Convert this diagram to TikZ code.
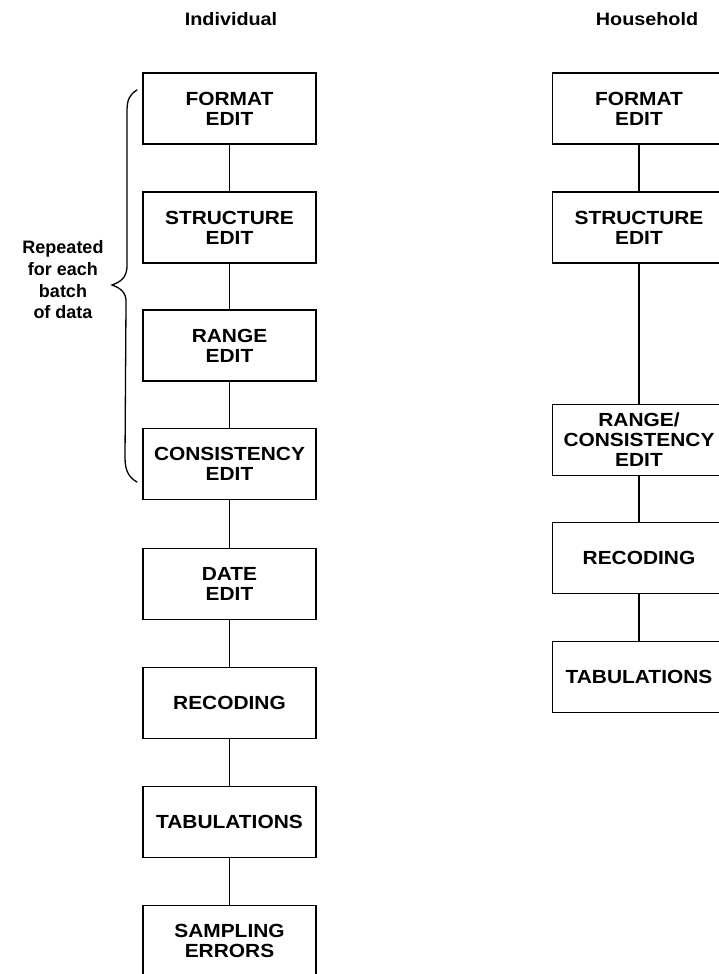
\documentclass[tikz,border=0pt]{standalone}
\usepackage{fontspec}
\setmainfont{Liberation Sans}
\newfontfamily\widesans{Liberation Sans}[FakeStretch=1.1]
\begin{document}
\begin{tikzpicture}[x=1pt,y=-1pt,
  stepbox/.style={draw, line width=1.5pt, minimum width=173pt, minimum height=71pt,
    inner sep=0pt, align=center, font=\widesans\bfseries\fontsize{19}{20}\selectfont},
  title/.style={anchor=base, font=\widesans\bfseries\fontsize{18}{20}\selectfont},
  link/.style={line width=1.4pt}]
\useasboundingbox (0,0) rectangle (719,974);
\clip (0,0) rectangle (719,974);

% column headings
\node[title] (hind) at (231,26) {Individual};
\node[title] (hhh) at (647,26) {Household};

% individual file processing
\node[stepbox] (i1) at (229.5,108.5) {FORMAT\\EDIT};
\node[stepbox] (i2) at (229.5,227.5) {STRUCTURE\\EDIT};
\node[stepbox] (i3) at (229.5,345.5) {RANGE\\EDIT};
\node[stepbox] (i4) at (229.5,464) {CONSISTENCY\\EDIT};
\node[stepbox] (i5) at (229.5,584) {DATE\\EDIT};
\node[stepbox] (i6) at (229.5,703) {RECODING};
\node[stepbox] (i7) at (229.5,822) {TABULATIONS};
\node[stepbox] (i8) at (229.5,941) {SAMPLING\\ERRORS};
\foreach \a/\b in {i1/i2,i2/i3,i3/i4,i4/i5,i5/i6,i6/i7,i7/i8}
  \draw[link] (\a) -- (\b);

% household file processing
\node[stepbox] (h1) at (639,108.5) {FORMAT\\EDIT};
\node[stepbox] (h2) at (639,227.5) {STRUCTURE\\EDIT};
\node[stepbox] (h3) at (639,440) {RANGE/\\CONSISTENCY\\EDIT};
\node[stepbox] (h4) at (639,558) {RECODING};
\node[stepbox] (h5) at (639,677) {TABULATIONS};
\foreach \a/\b in {h1/h2,h2/h3,h3/h4,h4/h5}
  \draw[link] (\a) -- (\b);

% brace grouping the per-batch edits
\draw[line width=1.3pt, line cap=round]
  (137,90) .. controls (129,95) and (127,100) .. (127,112)
  -- (127,266) .. controls (127,278) and (120,282) .. (112,285)
  .. controls (120,288) and (127,292) .. (126,304)
  -- (125,458) .. controls (125,472) and (130,478) .. (137,482);
\node[align=center, font=\bfseries\fontsize{18}{21.7}\selectfont] (rep) at (63,280)
  {Repeated\\for each\\batch\\of data};
\end{tikzpicture}
\end{document}
